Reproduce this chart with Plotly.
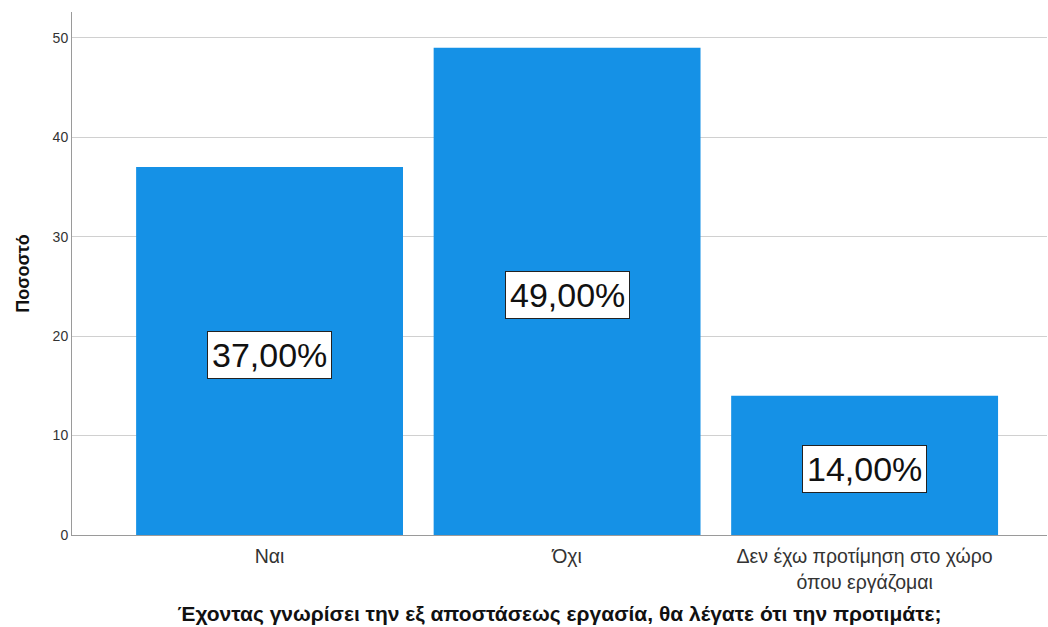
import plotly.graph_objects as go

categories = ["Ναι", "Όχι", "Δεν έχω προτίμηση στο χώρο<br>όπου εργάζομαι"]
values = [37.0, 49.0, 14.0]
labels = ["37,00%", "49,00%", "14,00%"]
y_ticks = [0, 10, 20, 30, 40, 50]

fig = go.Figure()
fig.add_trace(go.Bar(
    x=categories, y=values, width=0.897,
    marker=dict(color="#1591E6", line=dict(width=0)),
    hoverinfo="skip",
))

for c, v, t in zip(categories, values, labels):
    fig.add_annotation(
        x=c, y=v / 2, text=t, showarrow=False, yshift=-4,
        font=dict(family="Liberation Sans, Arial", size=34, color="#111111"),
        bgcolor="white", bordercolor="#222222", borderwidth=1, borderpad=4,
        xref="x", yref="y",
    )

fig.update_layout(
    width=1048, height=627,
    margin=dict(l=72, r=1, t=12, b=92),
    plot_bgcolor="white", paper_bgcolor="white",
    showlegend=False,
    font=dict(family="Liberation Sans, Arial", size=13, color="#333333"),
    xaxis=dict(
        type="category", range=[-0.664, 2.613],
        showline=True, linecolor="#9a9a9a", linewidth=1,
        showgrid=False, ticks="outside", ticklen=4, tickcolor="rgba(0,0,0,0)",
        tickfont=dict(size=19.5, color="#333333"),
        title=dict(text="<b>Έχοντας γνωρίσει την εξ αποστάσεως εργασία, θα λέγατε ότι την προτιμάτε;</b>",
                   font=dict(size=21, color="#111111"), standoff=14),
    ),
    yaxis=dict(
        range=[0, 52.6], tickvals=y_ticks,
        showline=True, linecolor="#9a9a9a", linewidth=1,
        showgrid=True, gridcolor="#d0d0d0", gridwidth=1,
        zeroline=False, ticks="", tickfont=dict(size=14, color="#333333"),
        title=dict(text="<b>Ποσοστό</b>", font=dict(size=18, color="#111111"), standoff=18),
    ),
)

fig.write_html("out.html")
